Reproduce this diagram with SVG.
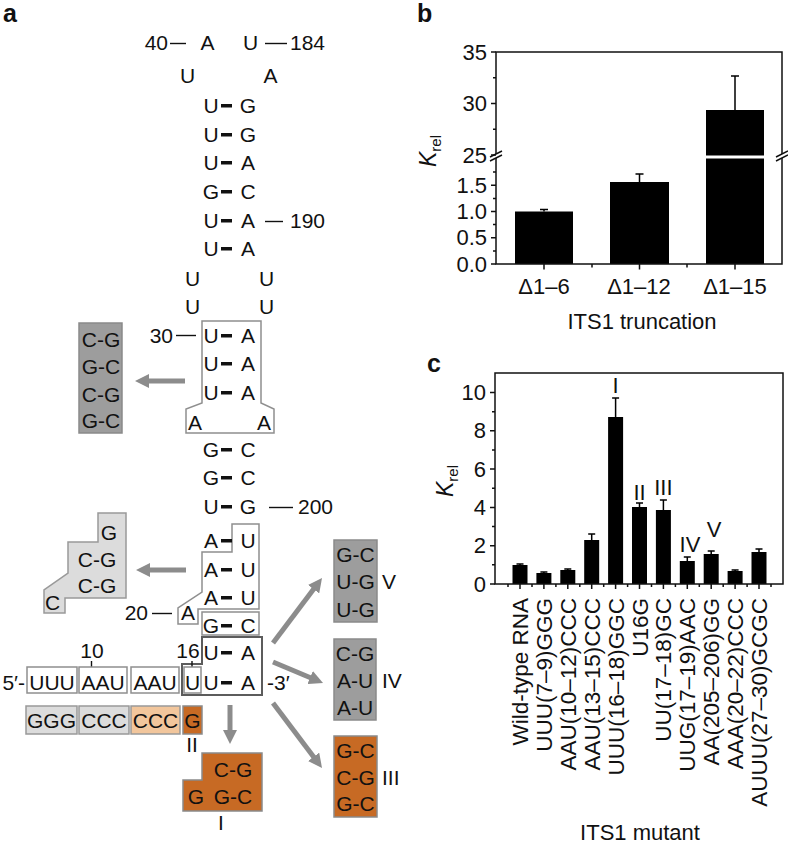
<svg xmlns="http://www.w3.org/2000/svg" width="788" height="845" viewBox="0 0 788 845">
<defs>
<style>
text{font-family:"Liberation Sans",Arial,Helvetica,sans-serif;fill:#111}
.s{font-size:21px;text-anchor:middle}
.n{font-size:21px}
.e{text-anchor:end}
.m{text-anchor:middle}
.p{font-size:25px;font-weight:bold}
.g{font-size:22px}
.xl{font-size:22.5px;text-anchor:end}
.dash{fill:#111}
.ld{stroke:#111;stroke-width:1.4}
.olf{fill:none;stroke:#8f8f8f;stroke-width:1.5}
.olw{fill:#fff;stroke:#8f8f8f;stroke-width:1.5}
.old{fill:none;stroke:#5c5c5c;stroke-width:2}
.lg{fill:#dcdcdc;stroke:#999;stroke-width:1.5}
.dg{fill:#9d9d9d;stroke:#8a8a8a;stroke-width:1.5}
.or{fill:#c76a24;stroke:#8a8a8a;stroke-width:1.5}
.pe{fill:#f2c69c;stroke:#999;stroke-width:1.5}
.arr{stroke:#8c8c8c;stroke-width:5;fill:none;marker-end:url(#ah)}
.ax{stroke:#111;stroke-width:1.5;fill:none}
.bar{fill:#000}
.eb{stroke:#000;stroke-width:1.5;fill:none}
</style>
<marker id="ah" viewBox="0 0 14 14" markerUnits="userSpaceOnUse" markerWidth="14" markerHeight="14" refX="3" refY="7" orient="auto"><path d="M0,0 L14,7 L0,14 Z" fill="#8c8c8c"/></marker>
</defs>

<!-- ================= PANEL A ================= -->
<text class="p" x="3" y="22">a</text>

<!-- outlines (drawn first) -->
<g id="node-outline-stem">
<polygon class="olf" points="202,321 261,321 261,403 274,409 274,433 186,433 186,409 202,403"/>
</g>
<g id="node-outline-AU">
<polygon class="olf" points="232,524 259,524 259,609 198,609 198,624 178,624 178,608 202,592 202,552 232,552"/>
</g>
<g id="node-outline-GC">
<rect class="olf" x="202" y="612" width="57" height="23"/>
</g>
<g id="node-outline-I">
<polygon class="old" points="202,637 262,637 262,695 182,695 182,664 202,664"/>
</g>

<!-- leader lines for numbering -->
<g id="leaders">
<line class="ld" x1="170" y1="43.5" x2="186" y2="43.5"/>
<line class="ld" x1="265" y1="43.5" x2="287" y2="43.5"/>
<line class="ld" x1="265" y1="221.5" x2="283" y2="221.5"/>
<line class="ld" x1="176" y1="335.5" x2="196" y2="335.5"/>
<line class="ld" x1="269" y1="507.5" x2="293" y2="507.5"/>
<line class="ld" x1="152" y1="613.5" x2="172" y2="613.5"/>
<line class="ld" x1="91.5" y1="661" x2="91.5" y2="667"/>
<line class="ld" x1="192" y1="661" x2="192" y2="667"/>
</g>

<!-- stem sequence -->
<g id="node-stem">
<text class="n e" x="168" y="50">40</text>
<text class="s" x="207.5" y="50">A</text>
<text class="s" x="250.5" y="50">U</text>
<text class="n" x="290" y="50">184</text>
<text class="s" x="187.5" y="83">U</text>
<text class="s" x="270.5" y="83">A</text>

<text class="s" x="211" y="113">U</text><rect class="dash" x="221" y="104" width="11" height="3.5"/><text class="s" x="248" y="113">G</text>
<text class="s" x="211" y="142">U</text><rect class="dash" x="221" y="133" width="11" height="3.5"/><text class="s" x="248" y="142">G</text>
<text class="s" x="211" y="170">U</text><rect class="dash" x="221" y="161" width="11" height="3.5"/><text class="s" x="248" y="170">A</text>
<text class="s" x="211" y="199">G</text><rect class="dash" x="221" y="190" width="11" height="3.5"/><text class="s" x="248" y="199">C</text>
<text class="s" x="211" y="228">U</text><rect class="dash" x="221" y="219" width="11" height="3.5"/><text class="s" x="248" y="228">A</text>
<text class="n" x="290" y="228">190</text>
<text class="s" x="211" y="256">U</text><rect class="dash" x="221" y="247" width="11" height="3.5"/><text class="s" x="248" y="256">A</text>

<text class="s" x="192.5" y="286">U</text><text class="s" x="266.5" y="286">U</text>
<text class="s" x="192.5" y="314">U</text><text class="s" x="266.5" y="314">U</text>

<text class="n e" x="173" y="343">30</text>
<text class="s" x="211" y="343">U</text><rect class="dash" x="221" y="334" width="11" height="3.5"/><text class="s" x="248" y="343">A</text>
<text class="s" x="211" y="371">U</text><rect class="dash" x="221" y="362" width="11" height="3.5"/><text class="s" x="248" y="371">A</text>
<text class="s" x="211" y="400">U</text><rect class="dash" x="221" y="391" width="11" height="3.5"/><text class="s" x="248" y="400">A</text>
<text class="s" x="195" y="430">A</text><text class="s" x="264" y="430">A</text>

<text class="s" x="211" y="457">G</text><rect class="dash" x="221" y="448" width="11" height="3.5"/><text class="s" x="248" y="457">C</text>
<text class="s" x="211" y="485">G</text><rect class="dash" x="221" y="476" width="11" height="3.5"/><text class="s" x="248" y="485">C</text>
<text class="s" x="211" y="514">U</text><rect class="dash" x="221" y="505" width="11" height="3.5"/><text class="s" x="248" y="514">G</text>
<text class="n" x="298" y="514">200</text>

<text class="s" x="211" y="548">A</text><rect class="dash" x="221" y="539" width="11" height="3.5"/><text class="s" x="248" y="548">U</text>
<text class="s" x="211" y="577">A</text><rect class="dash" x="221" y="568" width="11" height="3.5"/><text class="s" x="248" y="577">U</text>
<text class="s" x="211" y="605">A</text><rect class="dash" x="221" y="596" width="11" height="3.5"/><text class="s" x="248" y="605">U</text>
<text class="n e" x="148" y="620">20</text>
<text class="s" x="188" y="620">A</text>
<text class="s" x="211" y="633">G</text><rect class="dash" x="221" y="624" width="11" height="3.5"/><text class="s" x="248" y="633">C</text>
<text class="s" x="211" y="660">U</text><rect class="dash" x="221" y="651" width="11" height="3.5"/><text class="s" x="248" y="660">A</text>
<text class="s" x="211" y="690">U</text><rect class="dash" x="221" y="681" width="11" height="3.5"/><text class="s" x="248" y="690">A</text>
<text class="n" x="267" y="690">-3′</text>
</g>

<!-- 5' single strand -->
<g id="node-5prime">
<text class="n e" x="25" y="690">5′-</text>
<text class="n m" x="92" y="658">10</text>
<text class="n m" x="188" y="658">16</text>
<rect class="olw" x="27" y="667" width="50" height="26"/>
<rect class="olw" x="79" y="667" width="48" height="26"/>
<rect class="olw" x="131" y="667" width="48" height="26"/>
<rect class="olw" x="184" y="667" width="17" height="26"/>
<text class="s" x="52" y="690">UUU</text>
<text class="s" x="103" y="690">AAU</text>
<text class="s" x="155" y="690">AAU</text>
<text class="s" x="192.5" y="690">U</text>
</g>

<!-- mutant row -->
<g id="node-mut-row">
<rect class="lg" x="26" y="706" width="51" height="28"/>
<rect class="lg" x="79" y="706" width="50" height="28"/>
<rect class="pe" x="131" y="706" width="49" height="28"/>
<rect class="or" x="183" y="706" width="19" height="28"/>
<text class="s" x="51.5" y="728">GGG</text>
<text class="s" x="104" y="728">CCC</text>
<text class="s" x="155.5" y="728">CCC</text>
<text class="s" x="192.5" y="728">G</text>
<text class="s" x="192" y="752">II</text>
</g>

<!-- mutant I -->
<g id="node-mut-I">
<polygon class="or" points="202,753 262,753 262,811 183,811 183,780 202,780"/>
<text class="s" x="233" y="777">C-G</text>
<text class="s" x="196" y="804">G</text>
<text class="s" x="233" y="804">G-C</text>
<text class="s" x="221" y="830">I</text>
</g>

<!-- left mutants -->
<g id="node-mut-stem30">
<rect class="dg" x="79" y="323" width="43" height="110"/>
<text class="s" x="101" y="347">C-G</text>
<text class="s" x="101" y="374">G-C</text>
<text class="s" x="101" y="402">C-G</text>
<text class="s" x="101" y="428">G-C</text>
</g>
<g id="node-mut-stem20">
<polygon class="lg" points="98,513 126,513 126,598 65,598 65,613 44,613 44,590 68,573 68,542 98,542"/>
<text class="s" x="109" y="540">G</text>
<text class="s" x="97" y="567">C-G</text>
<text class="s" x="97" y="593">C-G</text>
<text class="s" x="52.5" y="610">C</text>
</g>

<!-- right mutants -->
<g id="node-mut-V">
<rect class="dg" x="334" y="540" width="43" height="82"/>
<text class="s" x="355.5" y="562">G-C</text>
<text class="s" x="355.5" y="589">U-G</text>
<text class="s" x="355.5" y="617">U-G</text>
<text class="n" x="382" y="589">V</text>
</g>
<g id="node-mut-IV">
<rect class="dg" x="334" y="639" width="42" height="81"/>
<text class="s" x="355" y="661">C-G</text>
<text class="s" x="355" y="688">A-U</text>
<text class="s" x="355" y="715">A-U</text>
<text class="n" x="382" y="688">IV</text>
</g>
<g id="node-mut-III">
<rect class="or" x="334" y="736" width="43" height="81"/>
<text class="s" x="355.5" y="758">G-C</text>
<text class="s" x="355.5" y="785">C-G</text>
<text class="s" x="355.5" y="811">G-C</text>
<text class="n" x="382" y="785">III</text>
</g>

<!-- arrows -->
<g id="connectors">
<line class="arr" x1="185" y1="381" x2="146" y2="381"/>
<line class="arr" x1="186" y1="570" x2="147" y2="570"/>
<line class="arr" x1="230" y1="705" x2="230" y2="733"/>
<line class="arr" x1="273" y1="643" x2="315.4" y2="586.8"/>
<line class="arr" x1="273" y1="662" x2="312.9" y2="678.7"/>
<line class="arr" x1="273" y1="703" x2="315.4" y2="759.2"/>
</g>

<!-- ================= PANEL B ================= -->
<g id="panel-b">
<text class="p" x="417" y="22">b</text>
<!-- bars -->
<rect class="bar" x="515" y="211.5" width="58" height="52.5"/>
<rect class="bar" x="610" y="182" width="59" height="82"/>
<rect class="bar" x="706" y="110" width="58" height="45.5"/>
<rect class="bar" x="706" y="158.5" width="58" height="105.5"/>
<path class="eb" d="M544 211.5V209.5M540 209.5H548M639.5 182V174M635.5 174H643.5M735 110V76M731 76H739"/>
<!-- axes -->
<path class="ax" d="M496 154V52H782V154M496 158V264H782V158"/>
<path class="ax" d="M490 157L502 151M490 161L502 155M776 157L788 151M776 161L788 155"/>
<!-- y ticks -->
<path class="ax" d="M491 52H496M491 103.5H496M491 155H496M491 185.25H496M491 211.5H496M491 237.75H496M491 264H496M493 77.75H496M493 129.25H496M493 172.1H496M493 198.4H496M493 224.6H496M493 250.9H496"/>
<!-- x ticks -->
<path class="ax" d="M544 264V269.5M639.5 264V269.5M735 264V269.5M592 264V267.5M687 264V267.5"/>
<text class="g e" x="487" y="59.5">35</text>
<text class="g e" x="487" y="111">30</text>
<text class="g e" x="487" y="162.5">25</text>
<text class="g e" x="487" y="192.75">1.5</text>
<text class="g e" x="487" y="219">1.0</text>
<text class="g e" x="487" y="245.25">0.5</text>
<text class="g e" x="487" y="271.5">0.0</text>
<text class="g m" x="544" y="294">Δ1–6</text>
<text class="g m" x="639" y="294">Δ1–12</text>
<text class="g m" x="735" y="294">Δ1–15</text>
<text class="g m" x="642" y="329">ITS1 truncation</text>
<text transform="translate(436,167) rotate(-90)" style="font-size:23px"><tspan font-style="italic">K</tspan><tspan style="font-size:15px" dy="5">rel</tspan></text>
</g>

<!-- ================= PANEL C ================= -->
<g id="panel-c">
<text class="p" x="427" y="372">c</text>
<!-- bars -->
<rect class="bar" x="512.5" y="565" width="15" height="19"/>
<rect class="bar" x="536.4" y="573" width="15" height="11"/>
<rect class="bar" x="560.3" y="570" width="15" height="14"/>
<rect class="bar" x="584.2" y="540" width="15" height="44"/>
<rect class="bar" x="608.1" y="417" width="15" height="167"/>
<rect class="bar" x="632" y="507" width="15" height="77"/>
<rect class="bar" x="655.9" y="510" width="15" height="74"/>
<rect class="bar" x="679.8" y="561" width="15" height="23"/>
<rect class="bar" x="703.7" y="554" width="15" height="30"/>
<rect class="bar" x="727.6" y="571" width="15" height="13"/>
<rect class="bar" x="751.5" y="552" width="15" height="32"/>
<path class="eb" d="M520 565V564M516.5 564H523.5M543.9 573V572M540.4 572H547.4M567.8 570V569M564.3 569H571.3M591.7 540V534M588.2 534H595.2M615.6 417V398M612.1 398H619.1M639.5 507V503M636 503H643M663.4 510V500M659.9 500H666.9M687.3 561V557M683.8 557H690.8M711.2 554V551M707.7 551H714.7M735.1 571V570M731.6 570H738.6M759 552V549M755.5 549H762.5"/>
<!-- axes -->
<rect class="ax" x="495" y="373" width="288" height="211"/>
<path class="ax" d="M490 584H495M490 545.7H495M490 507.4H495M490 469.1H495M490 430.8H495M490 392.5H495M492 564.85H495M492 526.55H495M492 488.25H495M492 449.95H495M492 411.65H495"/>
<path class="ax" d="M520 584V589M543.9 584V589M567.8 584V589M591.7 584V589M615.6 584V589M639.5 584V589M663.4 584V589M687.3 584V589M711.2 584V589M735.1 584V589M759 584V589M508 584V587M532 584V587M555.9 584V587M579.8 584V587M603.7 584V587M627.6 584V587M651.5 584V587M675.4 584V587M699.3 584V587M723.2 584V587M747.1 584V587M771 584V587"/>
<text class="g e" x="486" y="400">10</text>
<text class="g e" x="486" y="438.3">8</text>
<text class="g e" x="486" y="476.6">6</text>
<text class="g e" x="486" y="514.9">4</text>
<text class="g e" x="486" y="553.2">2</text>
<text class="g e" x="486" y="591.5">0</text>
<text class="g m" x="615.6" y="393">I</text>
<text class="g m" x="639.5" y="500">II</text>
<text class="g m" x="663.4" y="495">III</text>
<text class="g m" x="690" y="552">IV</text>
<text class="g m" x="714" y="537">V</text>
<text transform="translate(453,497) rotate(-90)" style="font-size:23px"><tspan font-style="italic">K</tspan><tspan style="font-size:15px" dy="5">rel</tspan></text>
<text class="xl" transform="translate(528,598) rotate(-90)">Wild-type RNA</text>
<text class="xl" transform="translate(551.9,598) rotate(-90)">UUU(7–9)GGG</text>
<text class="xl" transform="translate(575.8,598) rotate(-90)">AAU(10–12)CCC</text>
<text class="xl" transform="translate(599.7,598) rotate(-90)">AAU(13–15)CCC</text>
<text class="xl" transform="translate(623.6,598) rotate(-90)">UUU(16–18)GGC</text>
<text class="xl" transform="translate(647.5,598) rotate(-90)">U16G</text>
<text class="xl" transform="translate(671.4,598) rotate(-90)">UU(17–18)GC</text>
<text class="xl" transform="translate(695.3,598) rotate(-90)">UUG(17–19)AAC</text>
<text class="xl" transform="translate(719.2,598) rotate(-90)">AA(205–206)GG</text>
<text class="xl" transform="translate(743.1,598) rotate(-90)">AAA(20–22)CCC</text>
<text class="xl" transform="translate(767,598) rotate(-90)">AUUU(27–30)GCGC</text>
<text class="g m" x="640" y="840">ITS1 mutant</text>
</g>
</svg>
